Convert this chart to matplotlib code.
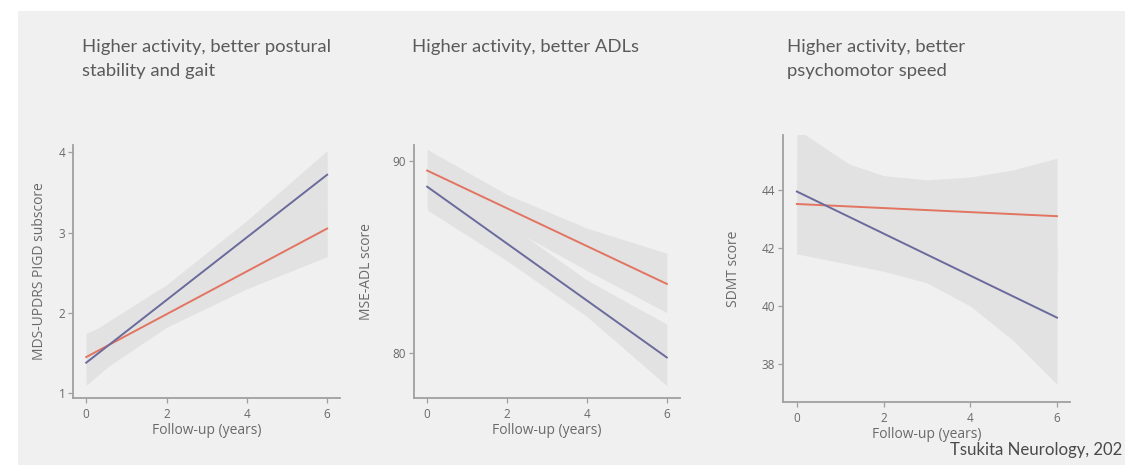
import matplotlib
matplotlib.use("Agg")
import matplotlib.pyplot as plt
from matplotlib.patches import Rectangle

# ---- data ----
years_line = [0, 6]
band_x = [0, 2, 4, 6]

# panel 1: MDS-UPDRS PIGD subscore
pigd_low = [1.38, 3.72]
pigd_high = [1.45, 3.05]
pigd_low_lo = [1.10, 1.95, 2.70, 3.40]
pigd_low_hi = [1.72, 2.35, 3.15, 4.02]
pigd_high_lo = [1.15, 1.82, 2.30, 2.70]
pigd_high_hi = [1.75, 2.14, 2.72, 3.40]

# panel 2: MSE-ADL score
adl_low = [88.66, 79.77]
adl_high = [89.5, 83.6]
adl_low_lo = [87.45, 84.8, 81.9, 78.3]
adl_low_hi = [89.87, 86.75, 83.8, 81.5]
adl_high_lo = [88.3, 86.6, 84.3, 82.1]
adl_high_hi = [90.6, 88.25, 86.5, 85.2]

# panel 3: SDMT score
sdmt_x = [0, 1, 2, 3, 4, 5, 6]
sdmt_low = [43.95, 39.6]
sdmt_high = [43.52, 43.1]
sdmt_low_lo = [41.8, 41.5, 41.2, 40.8, 40.0, 38.8, 37.3]
sdmt_low_hi = [46.1, 45.1, 44.1, 43.4, 42.9, 42.4, 42.0]
sdmt_high_lo = [41.8, 41.9, 42.0, 42.0, 41.9, 41.6, 41.2]
sdmt_high_hi = [45.2, 45.0, 44.5, 44.35, 44.45, 44.7, 45.1]

titles = [["Higher activity, better postural", "stability and gait"],
          ["Higher activity, better ADLs"],
          ["Higher activity, better", "psychomotor speed"]]
ylabels = ["MDS-UPDRS PIGD subscore", "MSE-ADL score", "SDMT score"]

BLUE = "#6a6a9c"
RED = "#e27462"
BAND = "#e2e2e2"
AXC = "#a0a0a0"
TXT = "#6a6a6a"

plt.rcParams['font.family'] = ['Open Sans', 'DejaVu Sans']

fig = plt.figure(figsize=(11.25, 4.65), dpi=100, facecolor="#f0f0f0")
# white strips at the top and left of the slide
fig.patches.append(Rectangle((0, 1 - 11 / 465), 1, 11 / 465, transform=fig.transFigure,
                             facecolor="white", edgecolor="none", zorder=-5))
fig.patches.append(Rectangle((0, 0), 18 / 1125, 1, transform=fig.transFigure,
                             facecolor="white", edgecolor="none", zorder=-5))

panels = [
    dict(rect=[73 / 1125, 1 - 398 / 465, 267 / 1125, 253 / 465],
         xlim=(-0.33, 6.32), ylim=(0.94, 4.09), yticks=[1, 2, 3, 4],
         bx=band_x, low=pigd_low, high=pigd_high,
         bands=[(pigd_low_lo, pigd_low_hi), (pigd_high_lo, pigd_high_hi)],
         ylx=-0.097, title_x=82),
    dict(rect=[414 / 1125, 1 - 398 / 465, 266 / 1125, 253 / 465],
         xlim=(-0.33, 6.33), ylim=(77.66, 90.83), yticks=[80, 90],
         bx=band_x, low=adl_low, high=adl_high,
         bands=[(adl_low_lo, adl_low_hi), (adl_high_lo, adl_high_hi)],
         ylx=-0.15, title_x=412),
    dict(rect=[783 / 1125, 1 - 402 / 465, 287 / 1125, 267 / 465],
         xlim=(-0.32, 6.3), ylim=(36.69, 45.9), yticks=[38, 40, 42, 44],
         bx=sdmt_x, low=sdmt_low, high=sdmt_high,
         bands=[(sdmt_low_lo, sdmt_low_hi), (sdmt_high_lo, sdmt_high_hi)],
         ylx=-0.146, title_x=787),
]

for i, p in enumerate(panels):
    ax = fig.add_axes(p["rect"])
    ax.set_facecolor("none")
    for lo, hi in p["bands"]:
        ax.fill_between(p["bx"], lo, hi, color=BAND, linewidth=0)
    ax.plot(years_line, p["high"], color=RED, lw=1.4)
    ax.plot(years_line, p["low"], color=BLUE, lw=1.4)

    ax.set_xlim(*p["xlim"])
    ax.set_ylim(*p["ylim"])
    ax.set_xticks([0, 2, 4, 6])
    ax.set_yticks(p["yticks"])
    for s in ["top", "right"]:
        ax.spines[s].set_visible(False)
    for s in ["left", "bottom"]:
        ax.spines[s].set_color(AXC)
        ax.spines[s].set_linewidth(1.3)
    ax.tick_params(colors=AXC, labelcolor=TXT, labelsize=8.5, length=3.5, width=0.9, pad=2)
    ax.tick_params(axis="x", pad=4)
    ax.set_xlabel("Follow-up (years)", fontsize=10, color=TXT, labelpad=1)
    ax.set_ylabel(ylabels[i], fontsize=10, color=TXT)
    ax.yaxis.set_label_coords(p["ylx"], 0.5)

    # title lines, one per baseline
    for k, line in enumerate(titles[i]):
        fig.text(p["title_x"] / 1125, 1 - (52 + 24 * k) / 465, line, fontsize=13.3,
                 family=['Lato', 'DejaVu Sans'], color="#5a5a5a", va="baseline", ha="left")

fig.text(950 / 1125, 1 - 455 / 465, "Tsukita Neurology, 202", fontsize=12.1,
         family=['Lato', 'DejaVu Sans'], color="#4a4a4a", va="baseline", ha="left")

fig.savefig("out.png", dpi=100, facecolor=fig.get_facecolor())
plt.close(fig)
